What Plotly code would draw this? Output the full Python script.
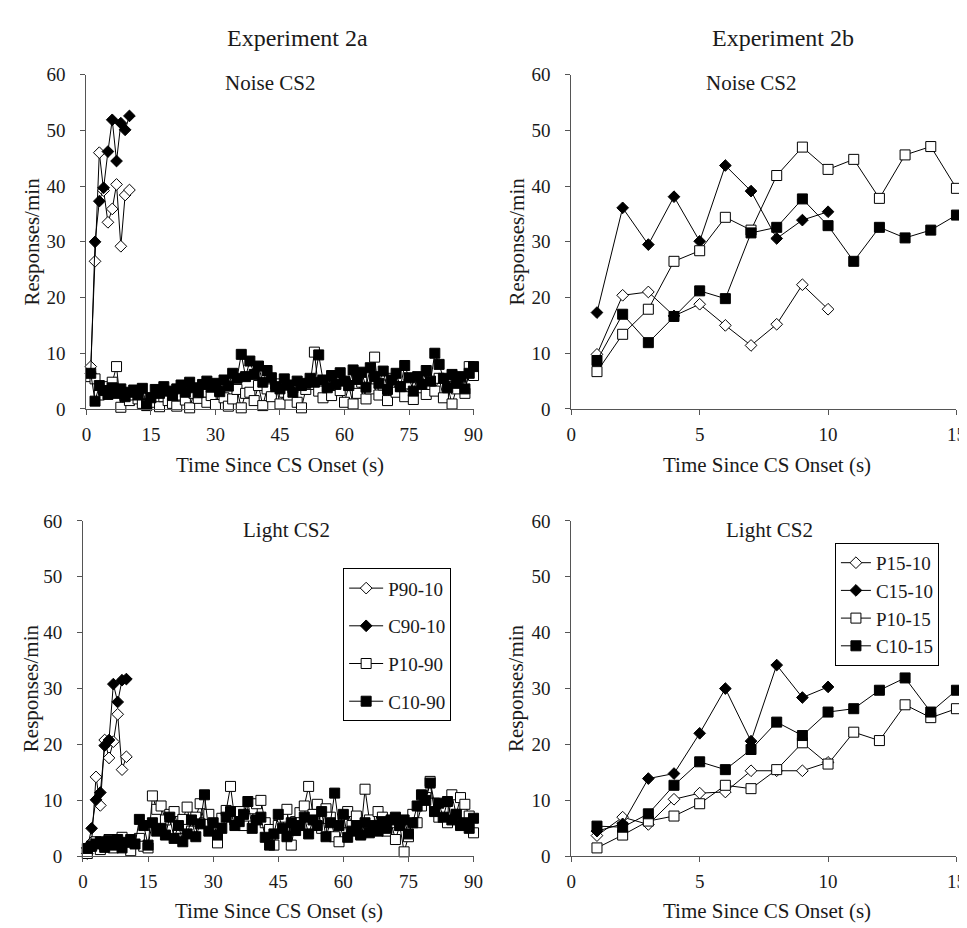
import plotly.graph_objects as go

W, H = 967, 928
FONT = "Liberation Serif, Times New Roman, serif"
TXT = "#1a1a1a"
AXC = "#555555"

# ---------------- data ----------------
# Experiment 2a (time since CS onset, s)
TIME_2A_SHORT = list(range(1, 11))
TIME_2A_LONG = list(range(1, 91))

noise_a_P90_10 = [7.6, 26.5, 46.0, 39.2, 33.5, 35.9, 40.3, 29.2, 38.4, 39.3]
noise_a_C90_10 = [6.3, 30.0, 37.3, 39.7, 46.2, 51.9, 44.5, 51.3, 50.1, 52.6]
noise_a_P10_90 = [5.8, 5.4, 2.5, 3.5, 4.0, 4.8, 7.6, 0.3, 2.4, 1.5,
                  2.5, 1.8, 1.0, 0.8, 2.0, 1.2, 0.4, 2.2, 1.5, 1.0,
                  0.5, 2.5, 1.6, 0.2, 2.8, 1.9, 3.0, 1.2, 2.4, 0.8,
                  3.2, 2.0, 0.5, 1.8, 3.5, 0.2, 2.8, 3.0, 1.5, 4.2,
                  0.6, 3.6, 2.2, 4.5, 0.9, 3.0, 2.5, 3.8, 1.2, 0.2,
                  3.5, 4.4, 10.2, 3.2, 2.0, 4.0, 2.4, 5.0, 3.3, 1.2,
                  4.2, 0.9, 2.8, 4.8, 1.8, 3.6, 9.3, 2.5, 4.3, 1.5,
                  5.5, 3.0, 4.0, 2.2, 4.5, 1.7, 3.8, 5.0, 2.6, 4.4,
                  3.2, 5.5, 2.0, 4.0, 0.9, 3.6, 5.6, 2.8, 7.6, 6.0]
noise_a_C10_90 = [6.4, 1.4, 4.2, 3.3, 2.6, 3.8, 2.8, 3.6, 2.2, 3.0,
                  3.4, 2.5, 3.7, 0.6, 2.0, 3.5, 2.8, 4.0, 3.2, 2.4,
                  3.6, 4.3, 3.0, 4.8, 3.8, 2.9, 4.4, 5.0, 3.9, 4.6,
                  3.1, 5.2, 4.1, 6.4, 5.5, 9.8, 5.8, 8.6, 6.2, 7.7,
                  4.8, 6.9, 5.6, 4.0, 3.6, 5.4, 4.3, 3.0, 5.0, 4.2,
                  4.6, 5.5, 4.8, 9.7, 5.2, 3.8, 6.0, 4.4, 6.5, 5.0,
                  4.2, 7.0, 5.3, 6.6, 3.9, 7.4, 5.8, 4.6, 6.8, 3.5,
                  5.2, 6.4, 4.0, 7.8, 5.6, 3.2, 5.8, 4.4, 6.9, 5.0,
                  10.0, 8.0, 5.5, 3.8, 6.2, 4.6, 5.8, 3.6, 6.4, 7.6]

light_a_P90_10 = [0.5, 2.5, 14.2, 9.1, 20.8, 17.6, 20.5, 25.4, 15.5, 17.8]
light_a_C90_10 = [1.5, 5.0, 10.1, 11.4, 19.8, 20.8, 30.8, 27.6, 31.5, 31.7]
light_a_P10_90 = [0.5, 1.8, 2.6, 1.2, 2.0, 3.0, 1.5, 2.5, 3.4, 2.0,
                  1.0, 2.8, 3.2, 1.8, 1.5, 10.8, 8.4, 9.0, 6.5, 7.5,
                  8.0, 5.0, 6.6, 8.8, 4.5, 7.0, 9.4, 6.0, 7.5, 5.2,
                  2.4, 6.8, 8.2, 12.5, 6.5, 8.0, 5.5, 7.2, 8.5, 9.4,
                  10.0, 6.0, 4.8, 2.0, 5.5, 7.0, 8.4, 2.0, 6.2, 7.8,
                  9.0, 12.5, 7.5, 9.3, 5.0, 8.5, 7.0, 3.5, 2.6, 6.0,
                  8.0, 5.5, 7.2, 4.0, 12.0, 6.5, 5.0, 8.0, 7.0, 4.5,
                  6.0, 3.0, 5.5, 0.8, 3.5, 7.5, 6.0, 9.0, 10.5, 13.4,
                  9.5, 7.0, 8.0, 6.0, 11.0, 7.5, 10.5, 9.3, 7.2, 4.2]
light_a_C10_90 = [1.4, 1.8, 2.2, 2.6, 1.6, 2.8, 2.0, 3.0, 1.5, 2.5,
                  3.0, 2.2, 6.6, 5.5, 2.0, 6.0, 4.5, 5.0, 3.8, 7.0,
                  3.2, 5.5, 2.6, 4.0, 6.5, 3.5, 5.8, 11.0, 4.5, 6.0,
                  3.8, 5.0, 7.0, 8.0, 5.5, 6.2, 7.5, 9.8, 5.0, 6.5,
                  7.0, 3.4, 2.0, 4.0, 7.5, 5.0, 3.5, 6.0, 4.6, 5.5,
                  7.0, 4.0, 6.5, 5.5, 8.0, 3.5, 6.0, 11.3, 5.5, 7.5,
                  3.4, 4.5, 5.5, 3.8, 6.0, 4.2, 5.5, 4.5, 6.2, 5.0,
                  6.5, 7.0, 5.5, 6.5, 4.0, 6.0, 9.0, 11.0, 10.0, 13.1,
                  8.0, 9.5, 7.0, 9.8, 6.5, 7.5, 5.5, 6.0, 5.0, 6.8]

# Experiment 2b
TIME_2B_SHORT = list(range(1, 11))
TIME_2B_LONG = list(range(1, 16))

noise_b_P15_10 = [9.8, 20.4, 21.0, 16.7, 18.8, 15.0, 11.4, 15.2, 22.3, 17.9]
noise_b_C15_10 = [17.3, 36.1, 29.5, 38.1, 30.1, 43.7, 39.1, 30.6, 33.9, 35.4]
noise_b_P10_15 = [6.7, 13.4, 17.9, 26.5, 28.4, 34.4, 32.1, 41.9, 47.0, 43.0,
                  44.8, 37.8, 45.6, 47.1, 39.6]
noise_b_C10_15 = [8.7, 17.0, 11.9, 16.6, 21.2, 19.8, 31.6, 32.6, 37.7, 32.9,
                  26.5, 32.6, 30.7, 32.1, 34.8]

light_b_P15_10 = [3.7, 7.0, 5.7, 10.2, 11.3, 11.5, 15.3, 15.3, 15.3, 16.8]
light_b_C15_10 = [4.5, 5.8, 13.9, 14.8, 22.0, 30.0, 20.6, 34.2, 28.4, 30.3]
light_b_P10_15 = [1.5, 3.8, 6.3, 7.2, 9.4, 12.7, 12.1, 15.5, 20.3, 16.5,
                  22.2, 20.7, 27.1, 24.8, 26.4]
light_b_C10_15 = [5.4, 5.2, 7.6, 12.7, 16.9, 15.5, 19.1, 24.0, 21.6, 25.8,
                  26.4, 29.7, 31.9, 25.8, 29.7]

NAMES_2A = ["P90-10", "C90-10", "P10-90", "C10-90"]
NAMES_2B = ["P15-10", "C15-10", "P10-15", "C10-15"]

PANEL_TITLES = ["Noise CS2", "Noise CS2", "Light CS2", "Light CS2"]
EXP_TITLES = ["Experiment 2a", "Experiment 2b"]
X_TITLE = "Time Since CS Onset (s)"
Y_TITLE = "Responses/min"
X_TICKS_2A = [0, 15, 30, 45, 60, 75, 90]
X_TICKS_2B = [0, 5, 10, 15]
Y_TICKS = [0, 10, 20, 30, 40, 50, 60]

# ---------------- styling ----------------
STYLES = [
    dict(symbol="diamond", color="white", size=9),
    dict(symbol="diamond", color="black", size=9),
    dict(symbol="square", color="white", size=10),
    dict(symbol="square", color="black", size=10),
]


def fx(p):
    return p / W


def fy(p):
    return 1 - p / H


fig = go.Figure()


def add_panel(xa, ya, series, names, legend_name, show, grouped):
    for i, (xs, ys) in enumerate(series):
        st = STYLES[i]
        fig.add_trace(go.Scatter(
            x=xs, y=ys, mode="lines+markers", name=names[i],
            xaxis=xa, yaxis=ya, cliponaxis=False,
            line=dict(color="black", width=1),
            marker=dict(symbol=st["symbol"], size=st["size"], color=st["color"],
                        line=dict(color="black", width=1)),
            showlegend=show, legend=legend_name,
            legendgroup=(legend_name + names[i]) if grouped else None,
        ))


add_panel("x", "y", [(TIME_2A_SHORT, noise_a_P90_10), (TIME_2A_SHORT, noise_a_C90_10),
                     (TIME_2A_LONG, noise_a_P10_90), (TIME_2A_LONG, noise_a_C10_90)],
          NAMES_2A, "legend", False, True)
add_panel("x2", "y2", [(TIME_2B_SHORT, noise_b_P15_10), (TIME_2B_SHORT, noise_b_C15_10),
                       (TIME_2B_LONG, noise_b_P10_15), (TIME_2B_LONG, noise_b_C10_15)],
          NAMES_2B, "legend2", False, False)
add_panel("x3", "y3", [(TIME_2A_SHORT, light_a_P90_10), (TIME_2A_SHORT, light_a_C90_10),
                       (TIME_2A_LONG, light_a_P10_90), (TIME_2A_LONG, light_a_C10_90)],
          NAMES_2A, "legend", True, True)
add_panel("x4", "y4", [(TIME_2B_SHORT, light_b_P15_10), (TIME_2B_SHORT, light_b_C15_10),
                       (TIME_2B_LONG, light_b_P10_15), (TIME_2B_LONG, light_b_C10_15)],
          NAMES_2B, "legend2", True, False)

axis_common = dict(showline=True, linecolor=AXC, linewidth=1, ticks="outside",
                   ticklen=5, tickcolor=AXC, tickwidth=1, showgrid=False, zeroline=False,
                   tickfont=dict(family=FONT, size=19, color=TXT), fixedrange=True)

TOP = (400, 58)
BOT = (857.7, 514.5)
XS = 3   # x tick label standoff
YS = 11  # y tick label standoff

layout_axes = dict(
    xaxis=dict(domain=[fx(74.5), fx(467.3)], range=[0, 90], tickvals=X_TICKS_2A,
               anchor="y", ticklabelstandoff=XS, **axis_common),
    yaxis=dict(domain=[fy(TOP[0]), fy(TOP[1])], range=[0, 60], tickvals=Y_TICKS,
               anchor="x", ticklabelstandoff=YS, **axis_common),
    xaxis2=dict(domain=[fx(566.5), fx(957.3)], range=[0, 15], tickvals=X_TICKS_2B,
                anchor="y2", ticklabelstandoff=XS, **axis_common),
    yaxis2=dict(domain=[fy(TOP[0]), fy(TOP[1])], range=[0, 60], tickvals=Y_TICKS,
                anchor="x2", ticklabelstandoff=YS, **axis_common),
    xaxis3=dict(domain=[fx(71), fx(467.3)], range=[0, 90], tickvals=X_TICKS_2A,
                anchor="y3", ticklabelstandoff=XS, **axis_common),
    yaxis3=dict(domain=[fy(BOT[0]), fy(BOT[1])], range=[0, 60], tickvals=Y_TICKS,
                anchor="x3", ticklabelstandoff=YS, **axis_common),
    xaxis4=dict(domain=[fx(566.5), fx(957.3)], range=[0, 15], tickvals=X_TICKS_2B,
                anchor="y4", ticklabelstandoff=XS, **axis_common),
    yaxis4=dict(domain=[fy(BOT[0]), fy(BOT[1])], range=[0, 60], tickvals=Y_TICKS,
                anchor="x4", ticklabelstandoff=YS, **axis_common),
)


def ann(text, px, py, size, angle=0):
    return dict(text=text, x=fx(px), y=fy(py), xref="paper", yref="paper",
                xanchor="center", yanchor="middle", showarrow=False, textangle=angle,
                font=dict(family=FONT, size=size, color=TXT))


annotations = [
    ann(EXP_TITLES[0], 289, 20, 24),
    ann(EXP_TITLES[1], 781, 20, 24),
    ann(PANEL_TITLES[0], 261, 66, 21),
    ann(PANEL_TITLES[1], 749, 66, 21),
    ann(PANEL_TITLES[2], 278, 524, 21),
    ann(PANEL_TITLES[3], 768, 524, 21),
    ann(X_TITLE, 271, 457, 21),
    ann(X_TITLE, 765, 457, 21),
    ann(X_TITLE, 270, 914, 21),
    ann(X_TITLE, 765, 914, 21),
    ann(Y_TITLE, 19, 229, 21, -90),
    ann(Y_TITLE, 511, 229, 21, -90),
    ann(Y_TITLE, 19, 686, 21, -90),
    ann(Y_TITLE, 511, 686, 21, -90),
]

legend_common = dict(xanchor="left", yanchor="top", bordercolor="black", borderwidth=1,
                     bgcolor="white", font=dict(family=FONT, size=19, color=TXT),
                     itemclick=False, itemdoubleclick=False)

fig.update_layout(
    width=W, height=H, margin=dict(l=0, r=0, t=0, b=0),
    paper_bgcolor="white", plot_bgcolor="white",
    font=dict(family=FONT, color=TXT),
    annotations=annotations,
    legend=dict(x=fx(335), y=fy(563), tracegroupgap=10, itemwidth=34, **legend_common),
    legend2=dict(x=fx(834), y=fy(537), tracegroupgap=0, **legend_common),
    **layout_axes,
)

fig.write_html("out.html")
